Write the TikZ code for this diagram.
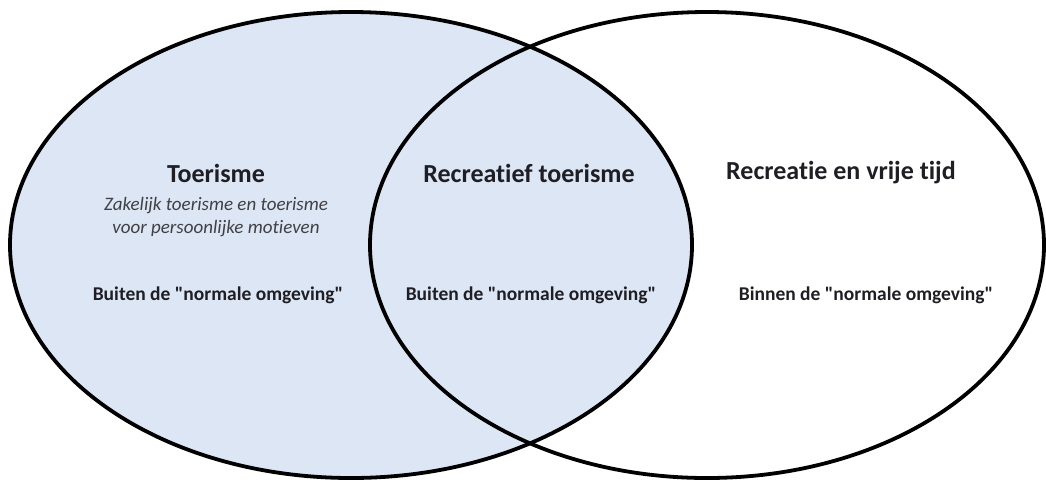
\documentclass[tikz,border=0pt]{standalone}
\usepackage{fontspec}
\setmainfont{Carlito}[Ligatures={NoCommon}]
\usetikzlibrary{shapes.geometric,positioning}
\definecolor{setblue}{HTML}{DCE6F4}
\definecolor{inktext}{HTML}{1E1E24}

\begin{document}
\begin{tikzpicture}[x=1pt, y=-1pt,
  setring/.style = {shape = ellipse, draw = black, line width = 3.8pt, inner sep = 0pt},
  title/.style = {font = \fontsize{26}{30}\selectfont\bfseries, text = inktext},
  note/.style = {font = \fontsize{19}{23}\selectfont\itshape, text = inktext!85, align = center},
  place/.style = {font = \fontsize{19.5}{23}\selectfont\bfseries, text = inktext}]
\useasboundingbox (0,0) rectangle (1046,483);
% the two sets
\node[setring, fill = setblue, minimum width = 682pt, minimum height = 466pt] (tour) at (351,245) {};
\node[setring, minimum width = 674pt, minimum height = 466pt] (recr) at (707,245) {};
% left part
\node[title] (tourname) at (216,173) {Toerisme};
\node[note] (tournote) at (216,217) {Zakelijk toerisme en toerisme\\voor persoonlijke motieven};
\node[place] (tourplace) at (218,295) {Buiten de \textquotedbl normale omgeving\textquotedbl};
% overlap
\node[title] (bothname) at (529,173) {Recreatief toerisme};
\node[place] (bothplace) at (531,295) {Buiten de \textquotedbl normale omgeving\textquotedbl};
% right part
\node[title] (recrname) at (841,173) {Recreatie en vrije tijd};
\node[place] (recrplace) at (866,295) {Binnen de \textquotedbl normale omgeving\textquotedbl};
\end{tikzpicture}
\end{document}
